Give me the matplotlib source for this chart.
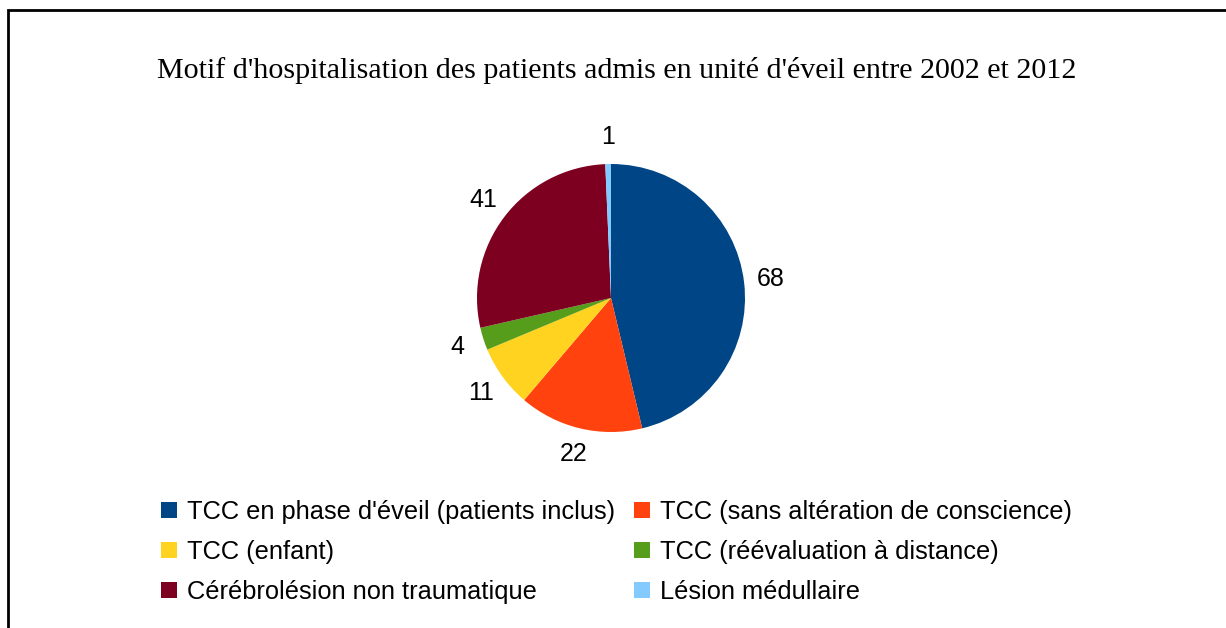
import matplotlib.pyplot as plt
from matplotlib.patches import Rectangle

# Data
categories = [
    "TCC en phase d'éveil (patients inclus)",
    "TCC (sans altération de conscience)",
    "TCC (enfant)",
    "TCC (réévaluation à distance)",
    "Cérébrolésion non traumatique",
    "Lésion médullaire",
]
values = [68, 22, 11, 4, 41, 1]
colors = ['#004586', '#ff420e', '#ffd320', '#579d1c', '#7e0021', '#83caff']

W, H = 1226, 628
fig = plt.figure(figsize=(W / 100, H / 100), dpi=100)

# frame around the chart (right and bottom edges lie outside the picture)
fig.patches.append(Rectangle((8 / W, -0.05), 1.1, 1.05 - 10 / H,
                             transform=fig.transFigure, fill=False,
                             edgecolor='black', linewidth=2))

fig.text(617 / W, 1 - 70 / H,
         "Motif d'hospitalisation des patients admis en unité d'éveil entre 2002 et 2012",
         ha='center', va='center', fontsize=21.6, family='Liberation Serif')

# pie centred at (611, 298) px, radius 134 px
r = 134
cx, cy = 611, 298
ax = fig.add_axes([(cx - r) / W, 1 - (cy + r) / H, 2 * r / W, 2 * r / H])
wedges, texts = ax.pie(values, colors=colors, startangle=90, counterclock=False,
                       labels=[str(v) for v in values], labeldistance=1.2,
                       textprops={'fontsize': 18, 'family': 'Liberation Sans'},
                       radius=1)
for t in texts:
    t.set_ha('center')
    t.set_va('center')
ax.set_aspect('equal')
ax.set_xlim(-1, 1)
ax.set_ylim(-1, 1)
ax.axis('off')

# legend, filled row by row
order = [0, 2, 4, 1, 3, 5]
leg = fig.legend([wedges[i] for i in order], [categories[i] for i in order],
                 ncol=2, loc='upper left', bbox_to_anchor=(151 / W, 1 - 490 / H),
                 frameon=False, prop={'family': 'Liberation Sans', 'size': 18.3},
                 handlelength=0.62, handleheight=0.62, handletextpad=0.4,
                 columnspacing=0.75, labelspacing=0.62, borderaxespad=0)

fig.savefig('out.png', dpi=100)
